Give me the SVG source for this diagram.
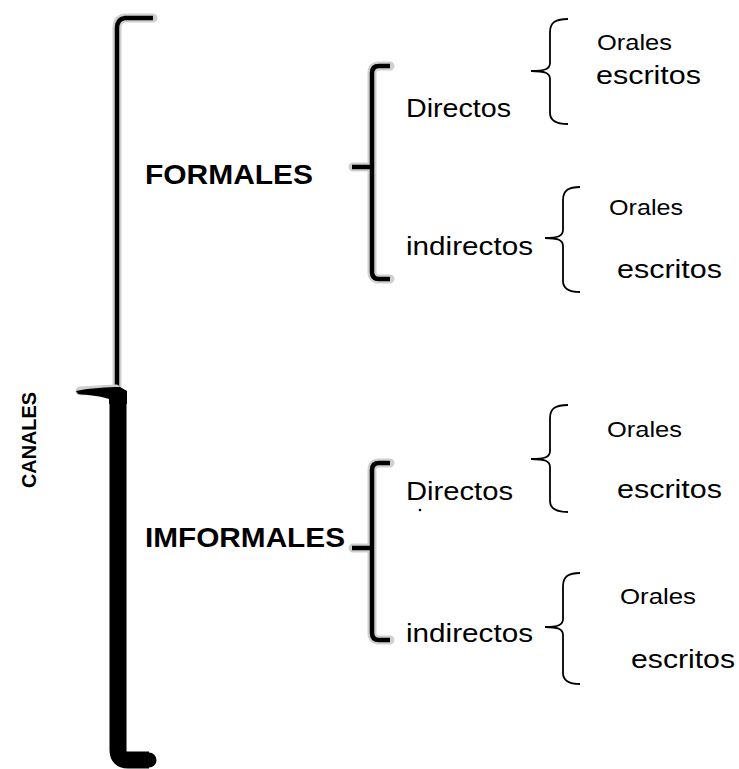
<svg xmlns="http://www.w3.org/2000/svg" width="739" height="769" viewBox="0 0 739 769">
<style>
.bg{fill:#ffffff}
.halo{fill:none;stroke:#cfcfcf;stroke-width:9;stroke-linecap:round;stroke-linejoin:round}
.br{fill:none;stroke:#000;stroke-width:4.5;stroke-linecap:butt;stroke-linejoin:round}
.thin{fill:none;stroke:#000;stroke-width:1.8;stroke-linecap:butt}
.thick{fill:none;stroke:#000;stroke-width:17;stroke-linecap:butt;stroke-linejoin:round}
.t{font-family:"Liberation Sans",Arial,sans-serif;fill:#000}
.b{font-family:"Liberation Sans",Arial,sans-serif;font-weight:bold;fill:#000}
</style>
<rect class="bg" x="0" y="0" width="739" height="769"/>
<g id="connectors">
  <path class="halo" d="M153,18 L125,18 Q117,19 117,28 L117,388"/>
  <path class="br" d="M153,18 L125,18 Q117,19 117,28 L117,390"/>
  <path class="halo" d="M80,391 L116,389"/>
  <path d="M76,391 C90,388 108,387 120,387 L127,391 L127,404 L109,404 L109,399 C100,396 88,395 78,394 Z" fill="#000"/>
  <path class="thick" d="M118,398 L118,750 Q118,760 128,760 L149,760"/>
  <circle cx="149" cy="760" r="7.5" fill="#000"/>
  <path class="halo" d="M390,66 L379,66 Q372,66 372,73 L372,272 Q372,279 379,279 L390,279 M353,167 L370,167"/>
  <path class="br" d="M390,66 L379,66 Q372,66 372,73 L372,272 Q372,279 379,279 L390,279"/>
  <path class="br" d="M352,167 L372,167" stroke-width="5.5"/>
  <path class="halo" d="M390,463 L379,463 Q372,463 372,470 L372,633 Q372,640 379,640 L390,640 M353,548 L370,548"/>
  <path class="br" d="M390,463 L379,463 Q372,463 372,470 L372,633 Q372,640 379,640 L390,640"/>
  <path class="br" d="M352,548 L372,548" stroke-width="5.5"/>
  <path class="thin" d="M568,19 C556,19 550,22 550,32 L550,63 C550,69 545,71 531,71 C545,71 550,73 550,79 L550,113 C550,121 556,124 568,124"/>
  <path class="thin" d="M580,187 C569,187 563,190 563,200 L563,230 C563,236 558,238 545,238 C558,238 563,240 563,246 L563,281 C563,289 569,292 580,292"/>
  <path class="thin" d="M568,405 C556,405 550,408 550,418 L550,451 C550,457 545,459 531,459 C545,459 550,461 550,467 L550,501 C550,509 556,512 568,512"/>
  <path class="thin" d="M580,573 C569,573 563,576 563,586 L563,619 C563,625 558,627 545,627 C558,627 563,629 563,635 L563,673 C563,681 569,684 580,684"/>
</g>
<g id="canales"><text class="b" font-size="20" transform="translate(36,488) rotate(-90)" textLength="96" lengthAdjust="spacingAndGlyphs">CANALES</text></g>
<g id="formales"><text class="b" x="145" y="184" font-size="28" textLength="168" lengthAdjust="spacingAndGlyphs">FORMALES</text></g>
<g id="imformales"><text class="b" x="145" y="547" font-size="28" textLength="200" lengthAdjust="spacingAndGlyphs">IMFORMALES</text></g>
<g id="directos1"><text class="t" x="406" y="117" font-size="25" textLength="105" lengthAdjust="spacingAndGlyphs">Directos</text></g>
<g id="indirectos1"><text class="t" x="406" y="255" font-size="25" textLength="127" lengthAdjust="spacingAndGlyphs">indirectos</text></g>
<g id="directos2"><text class="t" x="406" y="500" font-size="25" textLength="107" lengthAdjust="spacingAndGlyphs">Directos</text><circle cx="420" cy="510" r="1.3" fill="#000"/></g>
<g id="indirectos2"><text class="t" x="406" y="642" font-size="25" textLength="127" lengthAdjust="spacingAndGlyphs">indirectos</text></g>
<g id="orales1"><text class="t" x="597" y="50" font-size="22" textLength="75" lengthAdjust="spacingAndGlyphs">Orales</text></g>
<g id="escritos1"><text class="t" x="596" y="84" font-size="25" textLength="105" lengthAdjust="spacingAndGlyphs">escritos</text></g>
<g id="orales2"><text class="t" x="609" y="215" font-size="22" textLength="74" lengthAdjust="spacingAndGlyphs">Orales</text></g>
<g id="escritos2"><text class="t" x="617" y="278" font-size="25" textLength="105" lengthAdjust="spacingAndGlyphs">escritos</text></g>
<g id="orales3"><text class="t" x="607" y="437" font-size="22" textLength="75" lengthAdjust="spacingAndGlyphs">Orales</text></g>
<g id="escritos3"><text class="t" x="617" y="498" font-size="25" textLength="105" lengthAdjust="spacingAndGlyphs">escritos</text></g>
<g id="orales4"><text class="t" x="620" y="604" font-size="22" textLength="76" lengthAdjust="spacingAndGlyphs">Orales</text></g>
<g id="escritos4"><text class="t" x="631" y="668" font-size="25" textLength="104" lengthAdjust="spacingAndGlyphs">escritos</text></g>
</svg>
